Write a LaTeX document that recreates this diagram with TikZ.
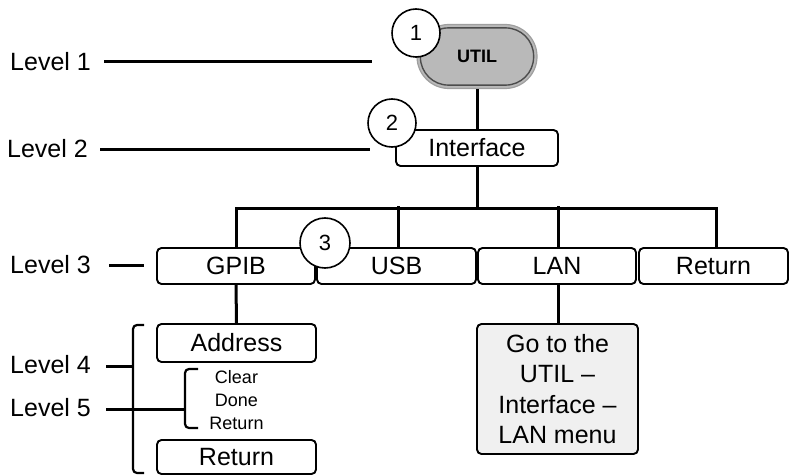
\documentclass[tikz,border=0pt]{standalone}
\usepackage{fontspec}
\setmainfont{Liberation Sans}
\begin{document}
\begin{tikzpicture}[x=1pt,y=-1pt,
  box/.style={draw,line width=1.9pt,rounded corners=4.5pt,fill=white,inner sep=0pt,
    font=\fontsize{25}{29}\selectfont},
  num/.style={circle,draw,line width=1.6pt,fill=white,minimum size=48pt,inner sep=0pt,
    font=\fontsize{22}{26}\selectfont},
  lvl/.style={anchor=west,inner sep=0pt,font=\fontsize{25}{29}\selectfont},
  conn/.style={line width=3pt},
  brk/.style={line width=2.2pt,rounded corners=4pt},
]
\useasboundingbox (0,0) rectangle (792,476);

% level labels
\node[lvl] (l1) at (10,62) {Level 1};
\node[lvl] (l2) at (7,149) {Level 2};
\node[lvl] (l3) at (10,265) {Level 3};
\node[lvl] (l4) at (10,365) {Level 4};
\node[lvl] (l5) at (10,408) {Level 5};

% UTIL pill
\node[draw=gray!75,line width=1.2pt,fill=gray!55,minimum width=120pt,minimum height=64pt,
      rounded corners=32pt,inner sep=0pt] (util) at (477,56.5) {};
\draw[black!70,line width=1.4pt,rounded corners=28pt]
  ([xshift=4pt,yshift=-4pt]util.north west) rectangle ([xshift=-4pt,yshift=4pt]util.south east);
\node[font=\fontsize{18}{20}\selectfont\bfseries] at (util.center) {UTIL};

% boxes
\node[box,minimum width=162pt,minimum height=36pt] (iface) at (477,148) {Interface};
\node[box,minimum width=158pt,minimum height=36pt] (gpib) at (236,266) {GPIB};
\node[box,minimum width=159pt,minimum height=36pt] (usb) at (396.5,266) {USB};
\node[box,minimum width=158pt,minimum height=36pt] (lan) at (557,266) {LAN};
\node[box,minimum width=149pt,minimum height=36pt] (ret) at (713.5,266) {Return};
\node[box,minimum width=159pt,minimum height=38pt] (addr) at (236.5,343) {Address};
\node[box,minimum width=159pt,minimum height=34pt] (ret2) at (236.5,457) {Return};
\node[box,fill=gray!12,minimum width=161pt,minimum height=130pt,align=center,
      font=\fontsize{25}{30.5}\selectfont] (lanmenu) at (557.5,389)
  {Go to the\\UTIL --\\Interface --\\LAN menu};

% level 5 items
\node[font=\fontsize{18}{23}\selectfont,align=center,inner sep=0pt] (sub) at (236.5,400)
  {Clear\\Done\\Return};

% connectors
\coordinate (bus) at (477,208);
\draw[conn] (util.south) -- (iface.north);
\draw[conn] (iface.south) -- (bus);
\draw[conn] (gpib.north) -- (gpib.north |- bus) -- ([xshift=3pt]ret.north |- bus) -- ([xshift=3pt]ret.north);
\draw[conn] (usb.north) ++(1.5,0) -- ++(0,-41);
\draw[conn] (lan.north) ++(1,0) -- ++(0,-41);
\draw[conn] (gpib.south) -- (addr.north);
\draw[conn] (lan.south) ++(1,0) -- ([xshift=0.5pt]lanmenu.north);

% level lines
\coordinate (e1) at (372,62);
\coordinate (e2) at (370,149);
\coordinate (e3) at (144,265);
\coordinate (b4) at (133,366);
\coordinate (b5) at (185,409);
\draw[conn] ([xshift=13pt]l1.east) -- (e1);
\draw[conn] ([xshift=12pt]l2.east) -- (e2);
\draw[conn] ([xshift=18pt]l3.east) -- (e3);
\draw[conn] ([xshift=15pt]l4.east |- b4) -- (b4);
\draw[conn] ([xshift=15pt]l5.east |- b5) -- (b5);

% brackets
\draw[brk] (144,325) -- (133,325) -- (133,473) -- (144,473);
\draw[brk] (198,369) -- (185,369) -- (185,428) -- (198,428);

% numbered circles
\node[num] (c1) at (416,33) {1};
\node[num] (c2) at (392,123) {2};
\node[num,minimum size=50pt] (c3) at (325,243) {3};
\end{tikzpicture}
\end{document}
